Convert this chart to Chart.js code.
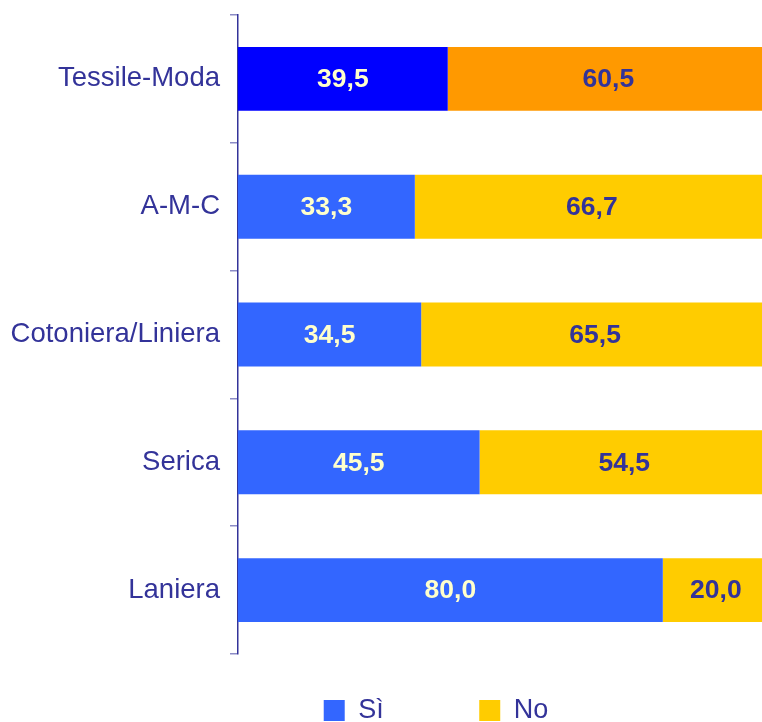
<!DOCTYPE html>
<html>
<head>
<meta charset="utf-8">
<script src="https://cdn.jsdelivr.net/npm/chart.js@4/dist/chart.umd.min.js"></script>
<style>
html,body{margin:0;padding:0;background:#fff;overflow:hidden;}
#wrap{width:762px;height:722px;overflow:hidden;}
</style>
</head>
<body>
<div id="wrap"><canvas id="c" width="769" height="722"></canvas></div>
<script>
const categories = ["Tessile-Moda", "A-M-C", "Cotoniera/Liniera", "Serica", "Laniera"];
const seriesNames = ["Sì", "No"];
const siValues = [39.5, 33.3, 34.5, 45.5, 80.0];
const noValues = [60.5, 66.7, 65.5, 54.5, 20.0];

const siColors = ["#0000FF", "#3366FF", "#3366FF", "#3366FF", "#3366FF"];
const noColors = ["#FF9900", "#FFCC00", "#FFCC00", "#FFCC00", "#FFCC00"];
const NAVY = "#333399";

const valueLabels = {
  id: 'valueLabels',
  afterDatasetsDraw(chart) {
    const ctx = chart.ctx;
    ctx.save();
    ctx.font = 'bold 26.5px "Liberation Sans", Arial, sans-serif';
    ctx.textAlign = 'center';
    ctx.textBaseline = 'middle';
    chart.data.datasets.forEach((ds, di) => {
      const meta = chart.getDatasetMeta(di);
      meta.data.forEach((el, i) => {
        const v = ds.data[i];
        const p = el.getCenterPoint();
        ctx.fillStyle = di === 0 ? "#FFFFCC" : NAVY;
        ctx.fillText(v.toFixed(1).replace('.', ','), p.x, p.y + 1);
      });
    });
    ctx.restore();
  }
};

new Chart(document.getElementById('c'), {
  type: 'bar',
  data: {
    labels: categories,
    datasets: [
      { label: seriesNames[0], data: siValues, backgroundColor: siColors, borderWidth: 0, barPercentage: 0.5, categoryPercentage: 1.0 },
      { label: seriesNames[1], data: noValues, backgroundColor: noColors, borderWidth: 0, barPercentage: 0.5, categoryPercentage: 1.0 }
    ]
  },
  options: {
    indexAxis: 'y',
    responsive: false,
    animation: false,
    layout: { padding: { top: 15, right: 0, left: 0, bottom: -12 } },
    scales: {
      x: { stacked: true, min: 0, max: 100, display: false },
      y: {
        stacked: true,
        offset: true,
        afterFit(scale) { scale.width = 238; scale.paddingTop = 0; scale.paddingBottom = 0; },
        border: { display: true, color: NAVY, width: 1.5 },
        grid: { display: true, drawOnChartArea: false, drawTicks: true, tickLength: 8, color: "#8C8CC6", lineWidth: 1.5, offset: true },
        ticks: { color: NAVY, padding: 10, font: { family: '"Liberation Sans", Arial, sans-serif', size: 27.5 } }
      }
    },
    plugins: {
      tooltip: { enabled: false },
      legend: {
        position: 'bottom',
        fullSize: false,
        labels: {
          color: NAVY,
          boxWidth: 21,
          boxHeight: 21,
          padding: 43,
          font: { family: '"Liberation Sans", Arial, sans-serif', size: 27 },
          generateLabels() {
            return [
              { text: seriesNames[0] + "\u00a0".repeat(7), fillStyle: "#3366FF", strokeStyle: "#3366FF", fontColor: NAVY, lineWidth: 0, datasetIndex: 0 },
              { text: seriesNames[1] + "\u00a0".repeat(18), fillStyle: "#FFCC00", strokeStyle: "#FFCC00", fontColor: NAVY, lineWidth: 0, datasetIndex: 1 }
            ];
          }
        }
      }
    }
  },
  plugins: [valueLabels]
});
</script>
</body>
</html>
